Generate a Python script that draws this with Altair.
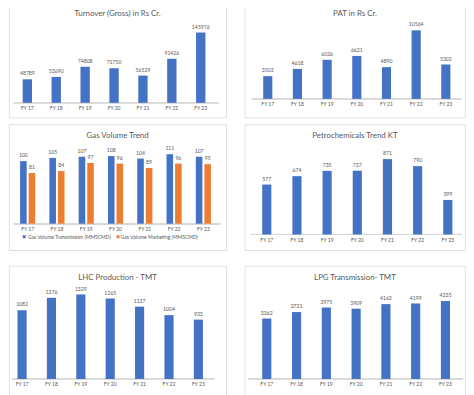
import altair as alt
import pandas as pd

years = ["FY 17", "FY 18", "FY 19", "FY 20", "FY 21", "FY 22", "FY 23"]
turnover = [48789, 53690, 74808, 71750, 56529, 91426, 145976]
pat = [3503, 4618, 6026, 6621, 4890, 10564, 5302]
gas_trans = [100, 105, 107, 108, 104, 111, 107]
gas_mkt = [81, 84, 97, 96, 89, 96, 95]
petro = [577, 674, 735, 737, 871, 790, 399]
lhc = [1082, 1276, 1329, 1265, 1137, 1004, 933]
lpg = [3362, 3721, 3975, 3909, 4163, 4199, 4335]
gas_series = ["Gas Volume Transmission (MMSCMD)", "Gas Volume Marketing (MMSCMD)"]
titles = ["Turnover (Gross) in Rs Cr.", "PAT in Rs Cr.", "Gas Volume Trend",
          "Petrochemicals Trend KT", "LHC Production - TMT", "LPG Transmission- TMT"]

BLUE = "#4472C4"
ORANGE = "#ED7D31"
TXT = "#595959"
FONT = "Lato"
WL, WR = 221, 224
H1, H2, H3 = 118, 128, 135
N = len(years)


def yscale(H, base, top, M):
    k = M / (base - top)
    return alt.Scale(domain=[-(H - base) * k, base * k], nice=False, zero=False)


def xscale(W, c1, s, bw):
    pI = 1 - bw / s
    pO = (W / s - N + pI) / 2
    F = 2 * pO * s
    a = (c1 - bw / 2) / F
    a = min(max(a, 0), 1)
    return alt.Scale(domain=years, paddingInner=pI, paddingOuter=pO, align=a)


def xenc(W, H, base, c1, s, bw):
    return alt.X(
        "year:N", sort=years, scale=xscale(W, c1, s, bw),
        axis=alt.Axis(title=None, labelAngle=0, domain=False, ticks=False,
                      labelPadding=3, offset=base - H, labelFontSize=5.1,
                      labelColor=TXT, labelFont=FONT, grid=False),
    )


def title_layer(text, W, cy):
    return alt.Chart(pd.DataFrame({"t": [text]})).mark_text(
        fontSize=8, font=FONT, color=TXT, baseline="middle", align="center"
    ).encode(x=alt.value(W / 2), y=alt.value(cy), text="t:N")


def panel(values, title, W, H, base, top, c1, s, bw, cy, rx):
    df = pd.DataFrame({"year": years, "value": values, "zero": [0] * N})
    ys = yscale(H, base, top, max(values))
    x = xenc(W, H, base, c1, s, bw)
    y = alt.Y("value:Q", scale=ys, axis=None)
    ch = alt.Chart(df)
    rl = ch.mark_rule(color="#d9d9d9", strokeWidth=0.8).encode(
        x=alt.value(rx[0]), x2=alt.value(rx[1]), y=alt.Y("zero:Q", scale=ys, axis=None))
    bars = ch.mark_bar(color=BLUE).encode(x=x, y=y, y2="zero:Q")
    text = ch.mark_text(dy=-4, baseline="alphabetic", fontSize=5.2, font=FONT, color=TXT).encode(
        x=x, y=y, text=alt.Text("value:Q", format="d"))
    return alt.layer(rl, bars, text, title_layer(title, W, cy)).properties(width=W, height=H)


def legend_item(i, color, sx, tx, ly):
    d = pd.DataFrame({"s": [gas_series[i]]})
    sq = alt.Chart(d).mark_square(size=9, color=color, opacity=1).encode(
        x=alt.value(sx), y=alt.value(ly))
    tt = alt.Chart(d).mark_text(fontSize=5.1, font=FONT, color=TXT, align="left", baseline="middle").encode(
        x=alt.value(tx), y=alt.value(ly), text="s:N")
    return [sq, tt]


def gas_panel(W, H, base, top, c1, s, gw, cy, rx, ly):
    df = pd.DataFrame({
        "year": years * 2,
        "series": [gas_series[0]] * N + [gas_series[1]] * N,
        "value": gas_trans + gas_mkt,
        "zero": [0] * (2 * N),
    })
    ys = yscale(H, base, top, max(gas_trans + gas_mkt))
    x = xenc(W, H, base, c1, s, gw)
    y = alt.Y("value:Q", scale=ys, axis=None)
    xo = alt.XOffset("series:N", sort=gas_series, scale=alt.Scale(paddingInner=0.23, paddingOuter=0))
    color = alt.Color("series:N", sort=gas_series,
                      scale=alt.Scale(domain=gas_series, range=[BLUE, ORANGE]), legend=None)
    ch = alt.Chart(df)
    rl = ch.mark_rule(color="#d9d9d9", strokeWidth=0.8).encode(
        x=alt.value(rx[0]), x2=alt.value(rx[1]), y=alt.Y("zero:Q", scale=ys, axis=None))
    bars = ch.mark_bar().encode(x=x, xOffset=xo, y=y, y2="zero:Q", color=color)
    text = ch.mark_text(dy=-4, baseline="alphabetic", fontSize=5.2, font=FONT, color=TXT).encode(
        x=x, xOffset=xo, y=y, text=alt.Text("value:Q", format="d"))
    leg = legend_item(0, BLUE, 15.5, 19.3, ly) + legend_item(1, ORANGE, 111, 113.7, ly)
    return alt.layer(rl, bars, text, title_layer(titles[2], W, cy), *leg).properties(width=W, height=H)


p1 = panel(turnover, titles[0], WL, H1, 103, 31.5, 18.7, 29.4, 9.5, 12.5, (5, WL - 8))
p2 = panel(pat, titles[1], WR, H1, 99, 29.3, 23.3, 30.2, 9.3, 12.5, (7, WR - 4))
p3 = gas_panel(WL, H2, 101, 30.3, 19, 29.8, 15.4, 12, (5, WL - 6), 114.3)
p4 = panel(petro, titles[3], WR, H2, 112, 35.3, 22.3, 30.7, 9.3, 12, (6, WR - 3))
p5 = panel(lhc, titles[4], WL, H3, 115, 29, 13.3, 29.9, 9.3, 12, (3, WL - 12))
p6 = panel(lpg, titles[5], WR, H3, 115, 35.7, 22.3, 30.3, 9.3, 12, (4, WR - 2))

row1 = alt.hconcat(p1, p2, spacing=17)
row2 = alt.hconcat(p3, p4, spacing=17)
row3 = alt.hconcat(p5, p6, spacing=17)

chart = alt.vconcat(alt.vconcat(row1, row2, spacing=5), row3, spacing=14).properties(
    padding={"left": 0, "top": -11, "right": 0, "bottom": 0}
).configure(background="white").configure_view(stroke="#d9d9d9", strokeWidth=0.8)

chart.save("out.html", embed_options={"renderer": "svg", "actions": False})
